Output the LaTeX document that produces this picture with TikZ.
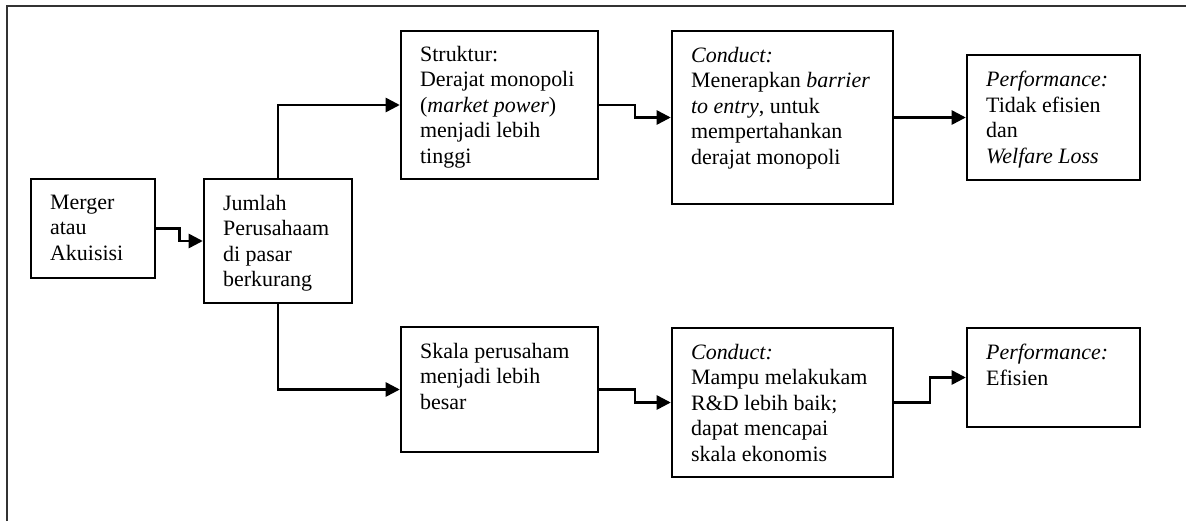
\documentclass[tikz,border=0pt]{standalone}
\usepackage{fontspec}
\setmainfont{Liberation Serif}
\usetikzlibrary{arrows.meta, calc, fit}

\begin{document}
\begin{tikzpicture}[x=0.02cm, y=-0.02cm,
  box/.style={draw, line width=1.4pt, inner sep=0pt},
  txt/.style={anchor=north west, align=left, inner sep=0pt,
    font=\fontsize{12.5}{14.5}\selectfont},
  conn/.style={line width=1.4pt, -{Triangle[length=8pt, width=8pt]}},
  elbow/.style={to path={-| ($(\tikztostart)!0.5!(\tikztotarget)$) |- (\tikztotarget) \tikztonodes}}]
\useasboundingbox (0,0) rectangle (1186,521);
\draw[line width=1.4pt, black!80] (7,521) -- (7,6) -- (1186,6);

% boxes
\node[box, fit={(31,179) (155,278)}] (merger) {};
\node[box, fit={(204,179) (352,303)}] (jumlah) {};
\node[box, fit={(401,31) (598,179)}] (struktur) {};
\node[box, fit={(672,31) (893,204)}] (conducta) {};
\node[box, fit={(967,55) (1140,180)}] (perfa) {};
\node[box, fit={(401,327) (598,452)}] (skala) {};
\node[box, fit={(672,328) (893,477)}] (conductb) {};
\node[box, fit={(967,328) (1140,427)}] (perfb) {};

% texts
\node[txt] (merger-t) at ([shift={(20,17)}]merger.north west) {Merger\\atau\\Akuisisi};
\node[txt] (jumlah-t) at ([shift={(20,17)}]jumlah.north west) {Jumlah\\Perusahaam\\di pasar\\berkurang};
\node[txt] (struktur-t) at ([shift={(20,16)}]struktur.north west) {Struktur:\\Derajat monopoli\\(\textit{market power})\\menjadi lebih\\tinggi};
\node[txt] (conducta-t) at ([shift={(20,17)}]conducta.north west) {\textit{Conduct:}\\Menerapkan \textit{barrier}\\\textit{to entry}, untuk\\mempertahankan\\derajat monopoli};
\node[txt] (perfa-t) at ([shift={(20,17)}]perfa.north west) {\textit{Performance:}\\Tidak efisien\\dan\\\textit{Welfare Loss}};
\node[txt] (skala-t) at ([shift={(20,17)}]skala.north west) {Skala perusaham\\menjadi lebih\\besar};
\node[txt] (conductb-t) at ([shift={(20,17)}]conductb.north west) {\textit{Conduct:}\\Mampu melakukam\\R\&D lebih baik;\\dapat mencapai\\skala ekonomis};
\node[txt] (perfb-t) at ([shift={(20,17)}]perfb.north west) {\textit{Performance:}\\Efisien};

% arrows
\draw[conn] (merger.east) to[elbow] (jumlah.west);
\draw[conn] (jumlah.north) |- (struktur.west);
\draw[conn] (jumlah.south) |- (skala.west);
\draw[conn] (struktur.east) to[elbow] (conducta.west);
\draw[conn] (conducta.east) -- (perfa.west);
\draw[conn] (skala.east) to[elbow] (conductb.west);
\draw[conn] (conductb.east) to[elbow] (perfb.west);
\end{tikzpicture}
\end{document}
